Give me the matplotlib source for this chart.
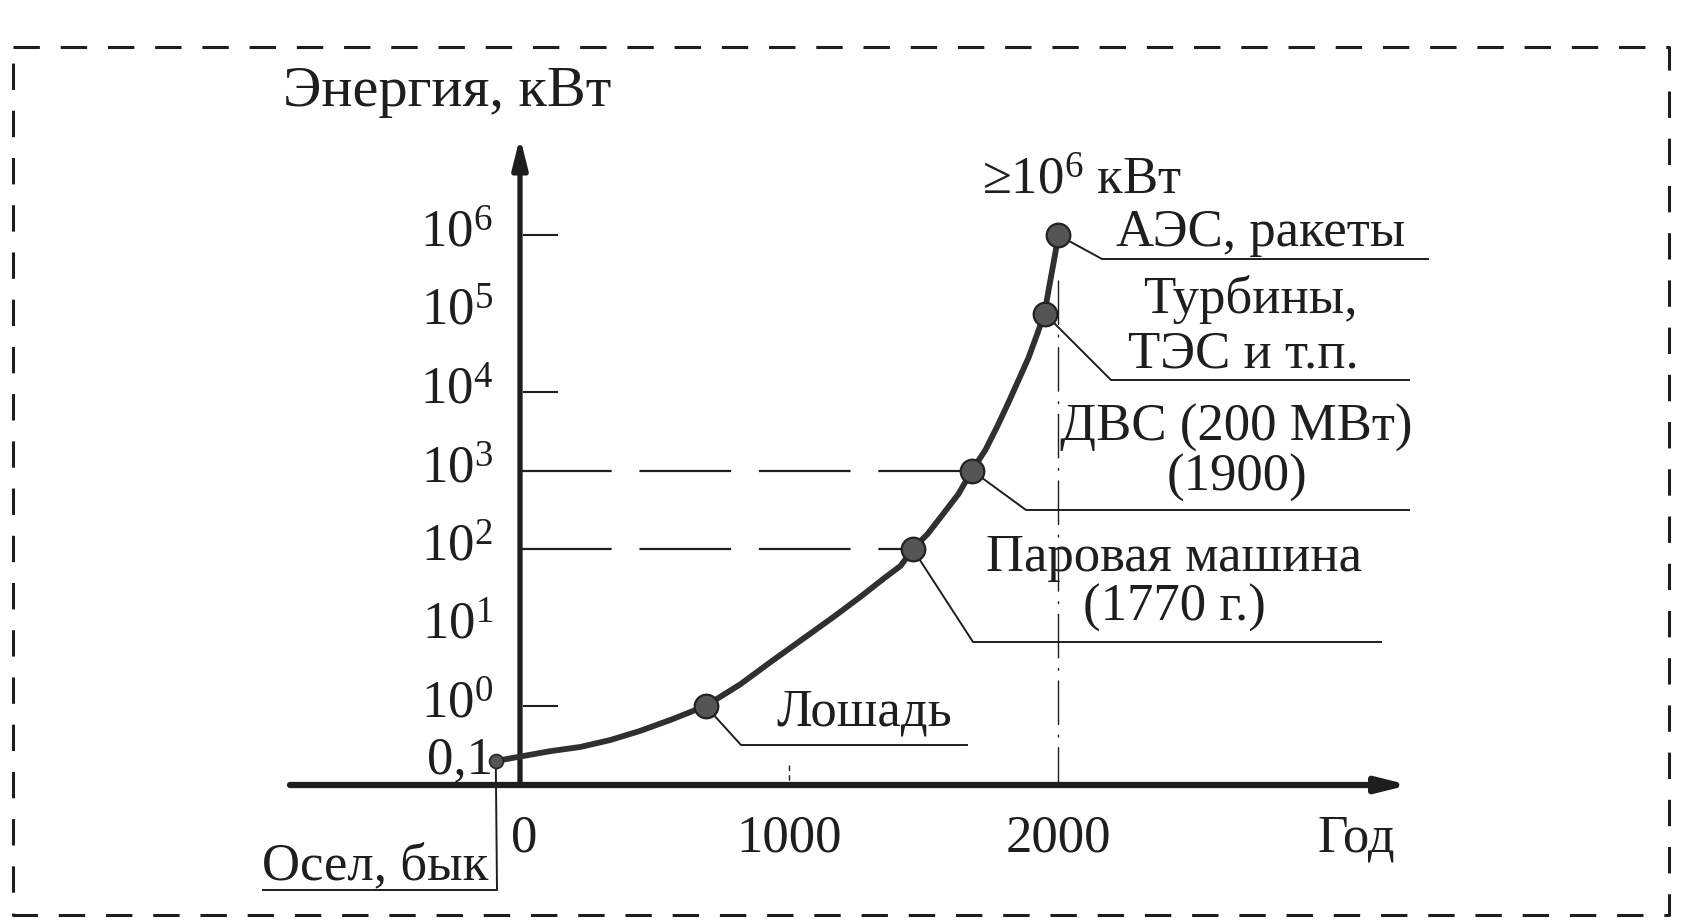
import numpy as np
import matplotlib
matplotlib.use("Agg")
import matplotlib.pyplot as plt

plt.rcParams['font.family'] = ['Liberation Serif', 'DejaVu Serif']
plt.rcParams['mathtext.fontset'] = 'custom'
plt.rcParams['mathtext.rm'] = 'Liberation Serif'
plt.rcParams['lines.scale_dashes'] = False

# key points on the curve (year, kW)
point_years = [-90, 690, 1460, 1680, 1950, 2000]
point_kw = [0.1, 1, 100, 1000, 1e5, 1e6]

# the curve itself
curve_years = [-90, 0, 110, 225, 335, 445, 560, 690, 820, 930, 1040, 1165, 1265, 1350, 1415,
               1460, 1515, 1570, 1630, 1680, 1730, 1775, 1815, 1850, 1890, 1920, 1950,
               1965, 1980, 1992, 2000]
curve_kw = [0.1, 0.12, 0.15, 0.18, 0.24, 0.35, 0.56, 1, 1.9, 3.6, 6.7, 13.6, 24.5, 41.5, 61,
            100, 155, 271, 502, 1000, 1820, 3690, 7240, 13400, 27100, 51600, 1e5,
            1.99e5, 3.8e5, 6.44e5, 1e6]

ytick_kw = [0.1, 1, 10, 100, 1000, 1e4, 1e5, 1e6]
ytick_labels = ["0,1", r"$\mathregular{10^0}$", r"$\mathregular{10^1}$", r"$\mathregular{10^2}$",
                r"$\mathregular{10^3}$", r"$\mathregular{10^4}$", r"$\mathregular{10^5}$",
                r"$\mathregular{10^6}$"]
ytick_marks = [1, 1e4, 1e6]
dashed_levels = [1000, 100]
dashed_years = [1680, 1460]

xtick_years = [0, 1000, 2000]
xtick_labels = ["0", "1000", "2000"]

# layout in pixels of the 1684x923 picture
W, H = 1684, 923
X0 = 520        # pixel of year 0
KX = 0.269      # pixels per year
Y1 = 706        # pixel of 1 kW
KY = 78.5       # pixels per decade
SUB = 0.7       # below 1 kW the scale is compressed


def fwd(v):
    v = np.clip(np.asarray(v, dtype=float), 1e-300, None)
    lg = np.log10(v)
    return np.where(lg >= 0, lg, lg * SUB)


def inv(f):
    f = np.asarray(f, dtype=float)
    return np.where(f >= 0, 10.0 ** f, 10.0 ** (f / SUB))


def px(x):
    return (x - X0) / KX


def py(y):
    return float(inv((Y1 - y) / KY))


fig = plt.figure(figsize=(W / 100, H / 100), dpi=100)
ax = fig.add_axes([0, 0, 1, 1])
ax.set_yscale('function', functions=(fwd, inv))
ax.set_xlim(px(0), px(W))
ax.set_ylim(py(H), py(0))
ax.set_axis_off()

ink = '#1e1e1e'
FS = 38

# dashed frame
frame_x = [px(13), px(1669), px(1669), px(13), px(13)]
frame_y = [py(47), py(47), py(915), py(915), py(47)]
ax.plot(frame_x, frame_y, color=ink, lw=2.2, dashes=(19, 15))

# axes with arrows
y_axis = py(785)
ax.annotate('', xy=(px(1409), y_axis), xytext=(px(290), y_axis),
            arrowprops=dict(arrowstyle='-|>,head_length=0.6,head_width=0.15',
                            color=ink, lw=4.5, mutation_scale=30, shrinkA=0, shrinkB=0))
ax.annotate('', xy=(0, py(137)), xytext=(0, y_axis),
            arrowprops=dict(arrowstyle='-|>,head_length=0.6,head_width=0.15',
                            color=ink, lw=3.8, mutation_scale=30, shrinkA=0, shrinkB=0))

# y ticks and labels
for v in ytick_marks:
    ax.plot([px(524), px(557)], [v, v], color=ink, lw=1.5)
for v, lab in zip(ytick_kw, ytick_labels):
    ax.text(px(493), py(Y1 - float(fwd(v)) * KY + 12), lab, fontsize=FS,
            ha='right', va='baseline', color=ink)
ax.text(px(447), py(92), "Энергия, кВт", fontsize=42, ha='center', va='center', color=ink)

# dashed guide lines
for v, yr in zip(dashed_levels, dashed_years):
    ax.plot([0, yr], [v, v], color=ink, lw=1.6, dashes=(66, 20))
ax.plot([2000, 2000], [py(280), y_axis], color=ink, lw=1.0, dashes=(32, 7, 2, 7))
ax.plot([1000, 1000], [py(765), y_axis], color=ink, lw=1.0, dashes=(4, 3))

# x tick labels
for yr, lab in zip(xtick_years, xtick_labels):
    ax.text(yr + (4 / KX if yr == 0 else 0), py(838), lab, fontsize=FS,
            ha='center', va='center', color=ink)
ax.text(px(1356), py(838), "Год", fontsize=FS, ha='center', va='center', color=ink)

# curve and points
ax.plot(curve_years, curve_kw, color='#303030', lw=4.2, solid_capstyle='round',
        solid_joinstyle='round', zorder=3)
ax.plot(point_years[1:], point_kw[1:], 'o', ms=17, mfc='#555555', mec='#222222',
        mew=1.6, zorder=4)
ax.plot(point_years[:1], point_kw[:1], 'o', ms=10, mfc='#555555', mec='#222222',
        mew=1.2, zorder=4)

# leader lines: (bend pixel, end pixel of underline)
leaders = [
    ((497, 890), 263),
    ((741, 745), 967),
    ((973, 642), 1381),
    ((1026, 510), 1409),
    ((1111, 380), 1409),
    ((1102, 259), 1428),
]
for (yr, v), ((bx, by), ex) in zip(zip(point_years, point_kw), leaders):
    ax.plot([yr, px(bx), px(ex)], [v, py(by), py(by)], color=ink, lw=1.4, zorder=2)

# captions
captions = [
    ("Осел, бык", 375, 866),
    ("Лошадь", 864, 712),
    ("Паровая машина", 1174, 558),
    ("(1770 г.)", 1174, 608),
    ("ДВС (200 МВт)", 1236, 428),
    ("(1900)", 1237, 478),
    ("Турбины,", 1250, 300),
    ("ТЭС и т.п.", 1243, 355),
    ("АЭС, ракеты", 1261, 233),
    (r"≥$\mathregular{10^6}$ кВт", 1082, 181),
]
for txt, cx, cy in captions:
    ax.text(px(cx), py(cy), txt, fontsize=FS, ha='center', va='center', color=ink)

fig.savefig("out.png", dpi=100, facecolor='white')
